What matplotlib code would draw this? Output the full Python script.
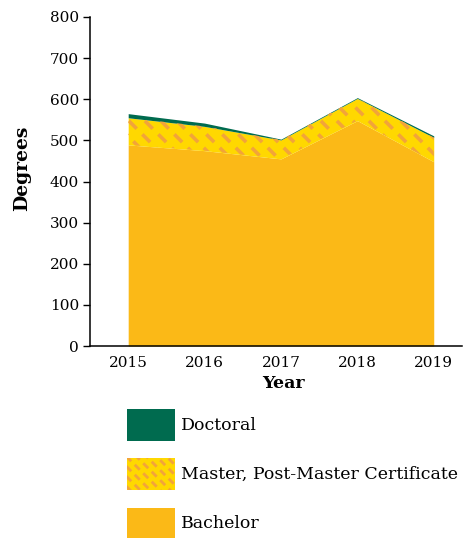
import matplotlib
matplotlib.use("Agg")
import matplotlib.pyplot as plt
from matplotlib.patches import Rectangle
import numpy as np

# data
years = [2015, 2016, 2017, 2018, 2019]
bachelor = [489, 475, 455, 548, 448]
master = [66, 59, 46, 54, 59]
doctoral = [10, 8, 2, 2, 4]
y_ticks = [0, 100, 200, 300, 400, 500, 600, 700, 800]
legend_labels = ["Doctoral", "Master, Post-Master Certificate", "Bachelor"]

c_bach = "#FBB917"
c_mast = "#FFD800"
c_dash = "#F2A43A"
c_doc = "#006B4F"

plt.rcParams['font.family'] = ['DejaVu Serif']
plt.rcParams['lines.scale_dashes'] = False

W, H = 465, 538
fig = plt.figure(figsize=(W / 100, H / 100), dpi=100)

# main axes placed in pixel terms
left, right, top, bottom = 90, 462, 17, 346
ax = fig.add_axes([left / W, 1 - bottom / H, (right - left) / W, (bottom - top) / H])

b = np.array(bachelor)
m = b + np.array(master)
d = m + np.array(doctoral)

ax.fill_between(years, 0, b, color=c_bach, lw=0)
mast_poly = ax.fill_between(years, b, m, color=c_mast, lw=0)
ax.fill_between(years, m, d, color=c_doc, lw=0)


# dashed diagonal pattern clipped to a patch/path (sizes in pixels)
def dashed_pattern(target_ax, clip, step, dash, gap, lw):
    for off in np.arange(-600, 600, step):
        xs = np.array([off, off + 600]) / W
        ys = np.array([1, 1 - 600 / H])
        ln, = target_ax.plot(xs, ys, transform=fig.transFigure, color=c_dash,
                             lw=lw * 0.72, dashes=(dash * 0.72, gap * 0.72),
                             solid_capstyle='butt')
        ln.set_clip_path(clip)


mpath = mast_poly.get_paths()[0]
dashed_pattern(ax, (mpath, ax.transData), step=16, dash=11, gap=8, lw=3.6)

ax.set_xlim(2014.5, 2019.37)
ax.set_ylim(0, 800)
ax.set_yticks(y_ticks)
ax.set_xticks(years)
ax.tick_params(axis='y', length=5, width=1, labelsize=11, pad=3)
ax.tick_params(axis='x', length=0, labelsize=11, pad=7)
for s in ['top', 'right']:
    ax.spines[s].set_visible(False)
for s in ['left', 'bottom']:
    ax.spines[s].set_linewidth(1.1)

# axis titles placed in pixel space
fig.text(22 / W, 1 - 168 / H, "Degrees", fontsize=13.5, fontweight='bold',
         rotation=90, ha='center', va='center')
fig.text(283 / W, 1 - 384 / H, "Year", fontsize=12.5, fontweight='bold',
         ha='center', va='center')

# legend drawn in pixel space
lax = fig.add_axes([0, 0, 1, 1])
lax.set_xlim(0, W)
lax.set_ylim(H, 0)
lax.axis('off')
boxes = [(409, c_doc), (458, c_mast), (508, c_bach)]
for (y0, col), lab in zip(boxes, legend_labels):
    r = Rectangle((127, y0), 48, 32, facecolor=col, lw=0)
    lax.add_patch(r)
    if col == c_mast:
        dashed_pattern(lax, r, step=10, dash=7, gap=5, lw=2.8)
    lax.text(181, y0 + 16, lab, fontsize=12.5, va='center', ha='left')

fig.savefig("out.png", dpi=100)
